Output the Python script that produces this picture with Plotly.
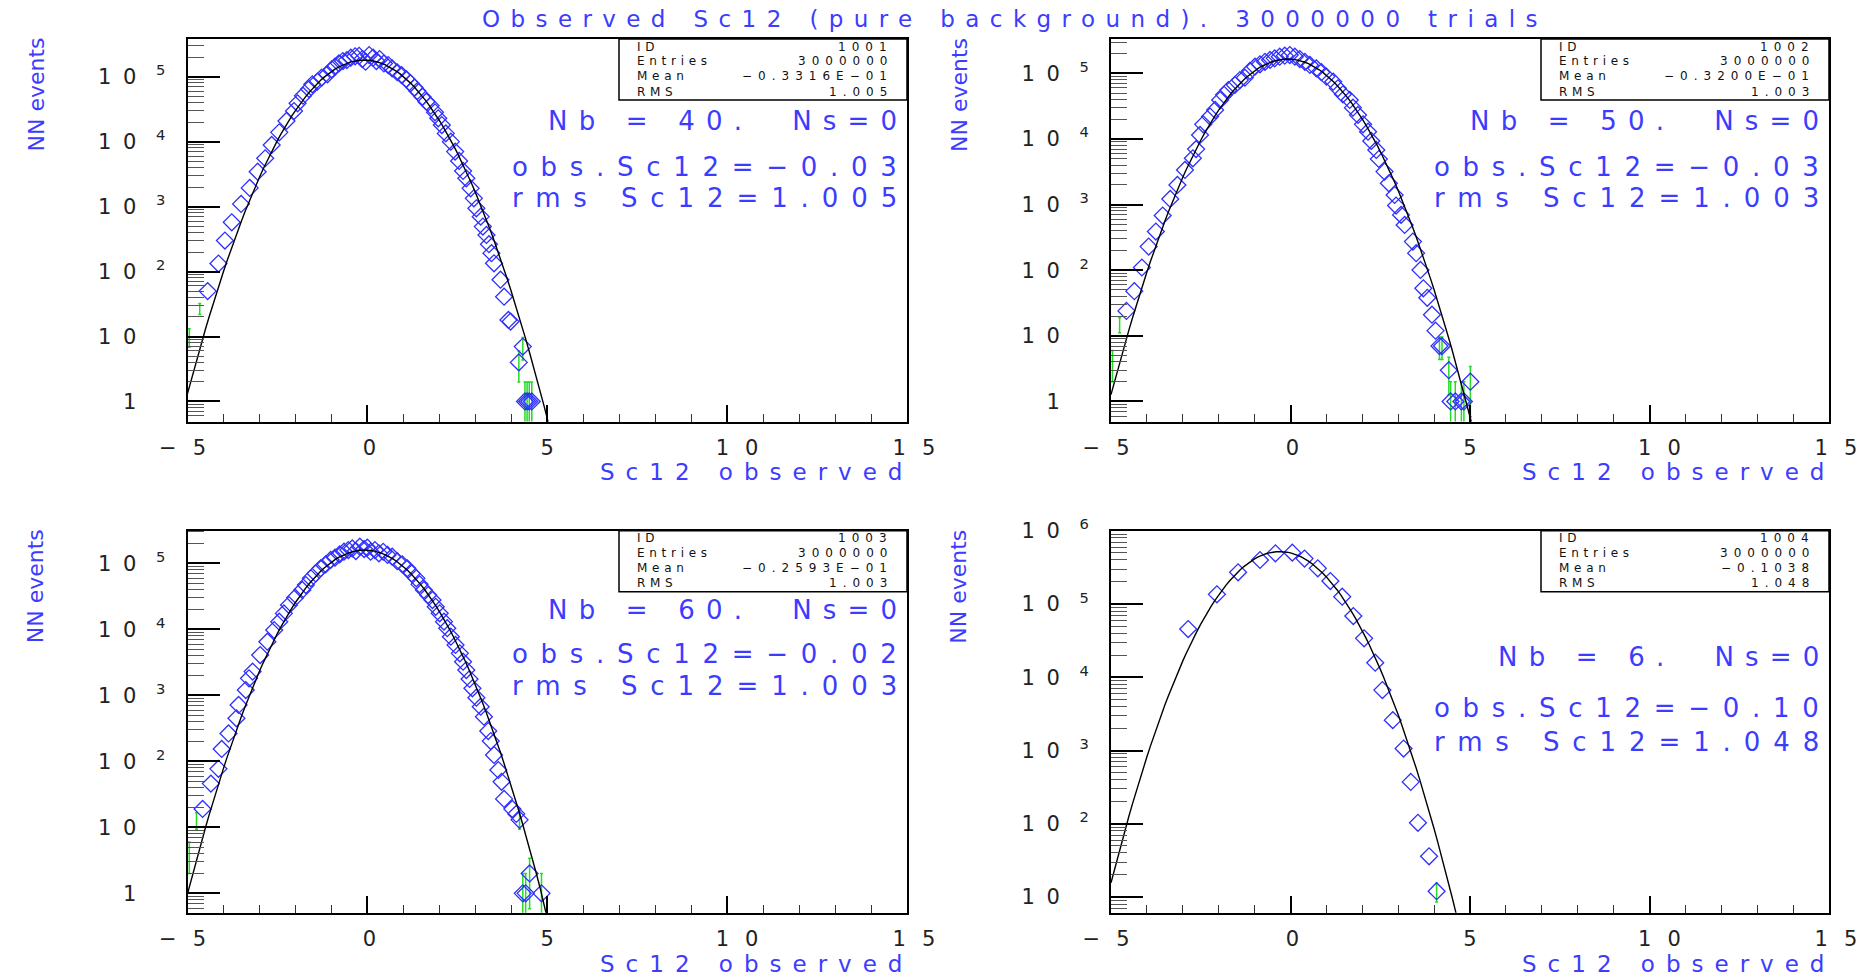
import numpy as np
import plotly.graph_objects as go

W, H = 1859, 976
BLUE = "#2f2fff"
TXT_BLUE = "#3c3cff"
GREEN = "#22dd22"
FONT = "DejaVu Sans"

# ---------------- histogram contents: bin centre / entries ----------------
# ID 1001  (Nb = 40)
h1001_x = [-4.44, -4.14, -3.96, -3.77, -3.51, -3.27, -3.05, -2.84, -2.66, -2.45,
           -2.25, -2.04, -1.94, -1.79, -1.62, -1.53, -1.39, -1.27, -1.11, -0.99,
           -0.90, -0.79, -0.68, -0.57, -0.46, -0.34, -0.23, -0.14, -0.05, 0.05,
           0.16, 0.25, 0.34, 0.46, 0.58, 0.69, 0.83, 0.95, 1.08, 1.20,
           1.31, 1.39, 1.53, 1.64, 1.76, 1.88, 1.97, 2.07, 2.18, 2.32,
           2.44, 2.55, 2.66, 2.75, 2.87, 2.96, 3.03, 3.15, 3.21, 3.31,
           3.38, 3.45, 3.52, 3.70, 3.80, 3.92, 3.98, 4.32, 4.21, 4.38,
           4.44, 4.50, 4.57]
h1001_n = [50, 133, 300, 574, 1100, 1940, 3450, 5550, 8890, 13900,
           20800, 29600, 38900, 51000, 64600, 76200, 83800, 96600, 108700, 129700,
           142600, 160300, 174200, 180400, 196000, 206000, 210000, 187000, 170000, 215000,
           196000, 174000, 187000, 160000, 151000, 134000, 117000, 106000, 92000, 79000,
           68000, 60000, 49200, 41200, 35800, 28300, 22900, 18000, 13400, 10000,
           7020, 5050, 3540, 2730, 1910, 1340, 942, 701, 492, 366,
           264, 192, 134, 75, 41, 18, 17, 7, 4, 1,
           1, 1, 1]
# bins drawn with their statistical error
h1001_ex = [-4.95, -4.66, 4.21, 4.32, 4.38, 4.44, 4.50, 4.57]
h1001_en = [10, 27, 4, 7, 1, 1, 1, 1]

# ID 1002  (Nb = 50)
h1002_x = [-4.57, -4.35, -4.14, -3.95, -3.75, -3.56, -3.35, -3.15, -2.94, -2.72,
           -2.63, -2.52, -2.43, -2.24, -2.10, -1.96, -1.85, -1.73, -1.55, -1.41,
           -1.27, -1.13, -0.99, -0.85, -0.71, -0.57, -0.44, -0.30, -0.16, -0.02,
           0.12, 0.26, 0.40, 0.54, 0.72, 0.86, 1.00, 1.19, 1.32, 1.46,
           1.65, 1.74, 1.88, 2.02, 2.16, 2.25, 2.39, 2.46, 2.62, 2.74,
           2.90, 2.94, 3.08, 3.18, 3.41, 3.50, 3.62, 3.70, 3.81, 3.94,
           4.04, 4.15, 4.22, 4.41, 5.01, 4.46, 4.59, 4.76, 4.83]
h1002_n = [24, 48, 110, 229, 388, 680, 1220, 1990, 3370, 5080,
           7000, 11500, 16700, 21900, 27700, 39200, 47000, 55700, 66400, 79100,
           85900, 108600, 126000, 137000, 150000, 160000, 169000, 179000, 186000, 190000,
           179000, 165000, 150000, 134000, 119000, 104000, 89000, 74600, 59100, 47900,
           39300, 30000, 23200, 16700, 12900, 9330, 6790, 4950, 3180, 2110,
           1400, 966, 697, 490, 273, 182, 101, 53, 38, 21,
           12, 7, 7, 3, 2, 1, 1, 1, 1]
h1002_ex = [-4.96, -4.76, 4.15, 4.22, 4.41, 5.01, 4.46, 4.59, 4.76, 4.83]
h1002_en = [4, 15, 7, 7, 3, 2, 1, 1, 1, 1]

# ID 1003  (Nb = 60)
h1003_x = [-4.58, -4.35, -4.14, -4.05, -3.86, -3.64, -3.58, -3.38, -3.29, -3.19,
           -2.98, -2.78, -2.59, -2.45, -2.32, -2.18, -2.01, -1.81, -1.71, -1.57,
           -1.44, -1.30, -1.16, -1.02, -0.90, -0.77, -0.65, -0.53, -0.42, -0.32,
           -0.21, -0.09, 0.00, 0.09, 0.21, 0.32, 0.44, 0.56, 0.69, 0.83,
           0.97, 1.11, 1.23, 1.36, 1.45, 1.57, 1.69, 1.81, 1.90, 2.01,
           2.13, 2.22, 2.32, 2.45, 2.57, 2.66, 2.75, 2.84, 2.92, 3.03,
           3.15, 3.24, 3.36, 3.43, 3.52, 3.64, 3.73, 3.80, 4.03, 4.14,
           4.23, 4.51, 4.32, 4.40, 4.84]
h1003_n = [19, 46, 77, 154, 265, 449, 715, 1205, 1810, 2290,
           4080, 6500, 9770, 13060, 17460, 23390, 30200, 39500, 47000, 59300,
           70500, 84000, 96600, 112500, 121800, 136900, 150300, 159300, 168700, 153800,
           179000, 165000, 173000, 150000, 159000, 142000, 150000, 134000, 126000, 108000,
           96600, 84000, 70500, 59300, 48100, 39500, 33100, 27800, 22000, 17500,
           13100, 10400, 7740, 5800, 4330, 3240, 2420, 1770, 1280, 922,
           673, 475, 288, 203, 125, 74, 49, 27, 19, 16,
           13, 2, 1, 1, 1]
h1003_ex = [-4.95, -4.75, 4.23, 4.51, 4.32, 4.40, 4.84]
h1003_en = [4, 13, 13, 2, 1, 1, 1]

# ID 1004  (Nb = 6)
h1004_x = [-2.85, -2.05, -1.46, -0.85, -0.42, 0.05, 0.39, 0.76, 1.11, 1.44,
           1.75, 2.05, 2.36, 2.56, 2.85, 3.15, 3.35, 3.55, 3.86, 4.07]
h1004_n = [45500, 135500, 271000, 399000, 492000, 503000, 417000, 307000, 206000, 126000,
           68600, 34000, 15800, 6680, 2600, 1064, 373, 103, 36, 12]
h1004_ex = [4.07]
h1004_en = [12]

# Gaussian fit parameters (amplitude, mean, sigma)
fit_amp = [1.80e5, 1.65e5, 1.59e5, 5.2e5]
fit_mean = [-0.09, -0.08, -0.078, -0.30]
fit_sigma = [1.01, 1.014, 1.005, 1.03]

# statistics boxes and labels
hist_ids = ["1001", "1002", "1003", "1004"]
entries = ["3000000", "3000000", "3000000", "3000000"]
means = ["\u22120.3316E\u221201", "\u22120.3200E\u221201", "\u22120.2593E\u221201", "\u22120.1038"]
rms_vals = ["1.005", "1.003", "1.003", "1.048"]
nb_vals = ["40.", "50.", "60.", "6."]
obs_vals = ["\u22120.03", "\u22120.03", "\u22120.02", "\u22120.10"]

x_ticks = [-5, 0, 5, 10, 15]
x_ticktext = ["\u22125", "0", "5", "10", "15"]
# horizontal nudge of each x tick label (pixels, + = right)
x_label_nudge = [-5, 2, 0, 10, 7]

# ---------------- layout geometry (pixels: left, top, right, bottom) ----------------
frames = [
    (187.5, 39.0, 907.0, 421.5),
    (1111.0, 39.0, 1829.0, 421.5),
    (187.5, 530.7, 907.0, 912.7),
    (1111.0, 530.7, 1829.0, 912.7),
]
y_ranges = [(-0.308, 5.58), (-0.305, 5.523), (-0.293, 5.495), (0.786, 6.001)]
y_decades = [range(0, 6), range(0, 6), range(0, 6), range(1, 7)]
# vertical offsets of the three info lines below each frame top
info_dy = [(82, 128, 159), (82, 128, 159), (79, 123, 155), (126, 177, 211)]

hist_x = [h1001_x, h1002_x, h1003_x, h1004_x]
hist_n = [h1001_n, h1002_n, h1003_n, h1004_n]
err_x = [h1001_ex, h1002_ex, h1003_ex, h1004_ex]
err_n = [h1001_en, h1002_en, h1003_en, h1004_en]

CLEAR = "rgba(0,0,0,0)"
DIGIT_W = 0.636 * 21  # advance of a digit in the tick font


def px(v):
    return v / W


def py(v):
    return 1 - v / H


def sp(text, spacing):
    """Letter-spaced text without trailing space after the last glyph."""
    if len(text) < 2:
        return text
    return f'<span style="letter-spacing:{spacing}px">{text[:-1]}</span>{text[-1]}'


def ghost(width):
    """Invisible filler of the given width in the tick font."""
    return f'<span style="letter-spacing:{width - DIGIT_W:.1f}px;color:{CLEAR}">0</span>'


def x_label(text, nudge):
    core = sp(text, 16)
    if nudge > 0:
        return ghost(2 * nudge) + core
    if nudge < 0:
        return core + ghost(-2 * nudge)
    return core


def dec_label(d):
    # mantissa "10" with wide letter spacing, exponent as superscript
    one = '<span style="letter-spacing:11.7px">1</span>'
    zero = '<span style="letter-spacing:19.6px">0</span>'
    if d == 0:
        mant = f'<span style="letter-spacing:11.7px;color:{CLEAR}">1</span>' + \
               '<span style="letter-spacing:19.6px">1</span>'
    else:
        mant = one + zero
    if d < 2:
        return mant + f'<sup><span style="color:{CLEAR}">0</span></sup>'
    return mant + "<sup>" + str(d) + "</sup>"


TICKFONT = dict(family=FONT, size=21, color="#222222")

fig = go.Figure()
annotations = []
shapes = []

for i in range(4):
    L, T, R, B = frames[i]
    sfx = "" if i == 0 else str(i + 1)
    xa, ya = "x" + sfx, "y" + sfx

    # statistical error bars
    fig.add_trace(go.Scatter(
        x=err_x[i], y=err_n[i], mode="markers", xaxis=xa, yaxis=ya,
        marker=dict(size=2, opacity=0),
        error_y=dict(type="data", array=list(np.sqrt(err_n[i])), color=GREEN,
                     thickness=1.5, width=1.5),
        hoverinfo="skip", showlegend=False))
    # histogram markers
    fig.add_trace(go.Scatter(
        x=hist_x[i], y=hist_n[i], mode="markers", xaxis=xa, yaxis=ya,
        marker=dict(symbol="diamond-open", size=13, color=BLUE,
                    line=dict(color=BLUE, width=1.3)),
        showlegend=False))
    # Gaussian fit
    xf = np.linspace(-5, 15, 201)
    yf = fit_amp[i] * np.exp(-0.5 * ((xf - fit_mean[i]) / fit_sigma[i]) ** 2)
    fig.add_trace(go.Scatter(
        x=xf, y=yf, mode="lines", xaxis=xa, yaxis=ya,
        line=dict(color="black", width=1.4), hoverinfo="skip", showlegend=False))

    ylo, yhi = y_ranges[i]
    decs = list(y_decades[i])
    minor_vals = [k * 10.0 ** d for d in range(int(np.floor(ylo)) - 1, int(np.ceil(yhi)) + 1)
                  for k in range(2, 10)
                  if ylo <= np.log10(k * 10.0 ** d) <= yhi]

    fig.update_layout(**{
        "xaxis" + sfx: dict(
            domain=[px(L), px(R)], anchor=ya, range=[-5, 15], automargin=False,
            tickmode="array", tickvals=x_ticks,
            ticktext=[x_label(t, n) for t, n in zip(x_ticktext, x_label_nudge)],
            ticks="inside", ticklen=17, tickwidth=1.5, tickcolor="black",
            minor=dict(tickmode="linear", tick0=0, dtick=1, ticks="inside",
                       ticklen=8, tickwidth=1.2, tickcolor="#333333"),
            showline=True, linecolor="black", linewidth=2, mirror=True,
            showgrid=False, zeroline=False, ticklabelstandoff=6,
            tickfont=TICKFONT),
        "yaxis" + sfx: dict(
            domain=[py(B), py(T)], anchor=xa, type="log", range=[ylo, yhi], automargin=False,
            tickmode="array", tickvals=[10.0 ** d for d in decs],
            ticktext=[dec_label(d) for d in decs],
            ticks="inside", ticklen=32, tickwidth=1.5, tickcolor="black",
            minor=dict(tickmode="array", tickvals=minor_vals, ticks="inside",
                       ticklen=16, tickwidth=1.2, tickcolor="#555555"),
            showline=True, linecolor="black", linewidth=2, mirror=True,
            showgrid=False, zeroline=False, ticklabelstandoff=16,
            tickfont=TICKFONT),
    })

    # statistics box
    bl, bt, br, bb = R - 288, T, R, T + 61
    shapes.append(dict(type="rect", xref="paper", yref="paper",
                       x0=px(bl), x1=px(br), y0=py(bb), y1=py(bt),
                       line=dict(color="black", width=1.5), fillcolor="white", layer="above"))
    rows = [("ID", hist_ids[i]), ("Entries", entries[i]), ("Mean", means[i]), ("RMS", rms_vals[i])]
    for r, (lab, val) in enumerate(rows):
        yy = T + 7.5 + 15 * r
        annotations.append(dict(x=px(bl + 16), y=py(yy), xref="paper", yref="paper",
                                text=sp(lab, 4.7), showarrow=False, xanchor="left", yanchor="middle",
                                font=dict(family=FONT, size=12, color="#111111")))
        annotations.append(dict(x=px(br - 18), y=py(yy), xref="paper", yref="paper",
                                text=sp(val, 6), showarrow=False, xanchor="right", yanchor="middle",
                                font=dict(family=FONT, size=12, color="#111111")))

    # info lines
    lines = [(f"Nb = {nb_vals[i]}\u00a0\u00a0Ns=0", 11.2),
             (f"obs.Sc12={obs_vals[i]}", 12.7),
             (f"rms Sc12={rms_vals[i]}", 12.9)]
    for k, (txt, s) in enumerate(lines):
        annotations.append(dict(x=px(R - 8), y=py(T + info_dy[i][k]), xref="paper", yref="paper",
                                text=sp(txt, s), showarrow=False, xanchor="right", yanchor="middle",
                                font=dict(family=FONT, size=26, color=TXT_BLUE)))

    # axis titles
    annotations.append(dict(x=px(R - 3), y=py(B + 51), xref="paper", yref="paper",
                            text=sp("Sc12 observed", 11), showarrow=False,
                            xanchor="right", yanchor="middle",
                            font=dict(family=FONT, size=23, color=TXT_BLUE)))
    annotations.append(dict(x=px(L - 152), y=py(T + 56), xref="paper", yref="paper",
                            text="NN events", showarrow=False, textangle=-90,
                            xanchor="center", yanchor="middle",
                            font=dict(family=FONT, size=22, color=TXT_BLUE)))

annotations.append(dict(x=px(1009), y=py(19), xref="paper", yref="paper",
                        text=sp("Observed Sc12 (pure background). 3000000 trials", 10.4),
                        showarrow=False, xanchor="center", yanchor="middle",
                        font=dict(family=FONT, size=23, color=TXT_BLUE)))

fig.update_layout(
    width=W, height=H, margin=dict(l=0, r=0, t=0, b=0),
    paper_bgcolor="white", plot_bgcolor="white",
    showlegend=False, annotations=annotations, shapes=shapes,
    font=dict(family=FONT),
)

fig.write_html("out.html")
